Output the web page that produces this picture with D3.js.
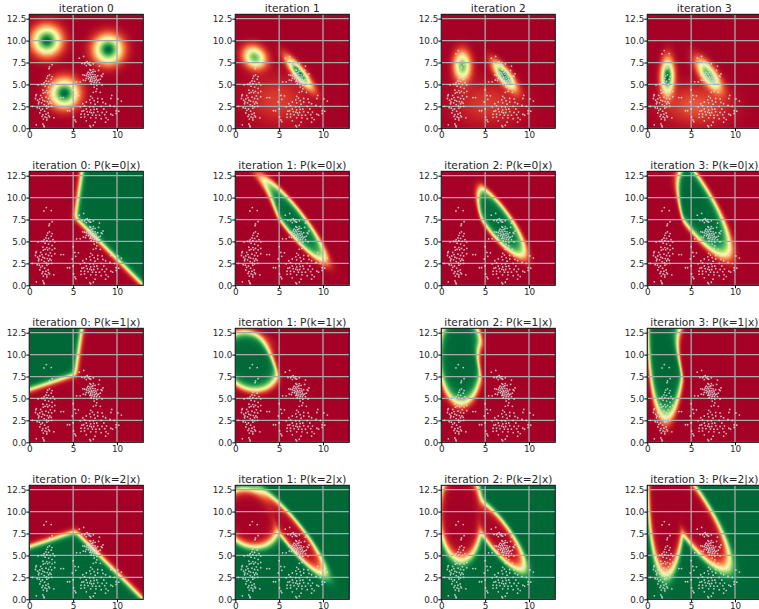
<!DOCTYPE html>
<html>
<head>
<meta charset="utf-8">
<script src="https://cdnjs.cloudflare.com/ajax/libs/d3/7.8.5/d3.min.js"></script>
<style>
html, body { margin: 0; padding: 0; background: #fff; overflow: hidden; }
svg { display: block; }
text { font-family: "DejaVu Sans", sans-serif; fill: #262626; }
</style>
</head>
<body>
<svg id="chart" width="759" height="609"></svg>
<script>
// points, one list per blob
const pointsLeft = [[1.94,8.86],[1.67,8.48],[2.5,8.52],[2.6,7.26],[2.3,7.0],[2.25,6.8],[2.3,6.1],[2.1,5.95],[2.0,5.7],[2.6,5.9],[2.5,5.6],[1.9,5.4],[2.2,5.35],[1.7,5.2],[1.4,5.0],[1.0,4.95],[1.6,5.0],[2.0,5.1],[2.4,5.0],[2.7,5.2],[2.9,4.95],[1.8,4.8],[2.2,4.7],[2.6,4.55],[1.55,4.35],[2.0,4.3],[2.3,4.2],[1.8,4.1],[1.6,4.0],[2.1,4.05],[2.6,4.05],[2.9,4.2],[0.8,3.85],[0.75,3.7],[1.3,3.75],[2.4,3.7],[2.9,3.6],[3.6,3.5],[3.9,3.5],[0.7,3.4],[1.45,3.5],[1.9,3.55],[2.2,3.4],[2.55,3.35],[1.55,3.2],[1.75,3.1],[2.05,3.05],[2.35,3.0],[1.1,3.0],[1.4,2.9],[2.2,2.8],[2.5,2.85],[1.7,2.7],[1.95,2.55],[2.2,2.45],[2.55,2.5],[0.35,2.5],[0.9,2.35],[1.15,2.3],[1.5,2.2],[2.0,2.3],[1.3,2.05],[1.75,1.95],[1.2,1.75],[1.55,1.55],[1.9,1.6],[2.15,1.75],[1.45,1.35],[1.8,1.3],[2.0,1.2],[2.3,1.3],[2.8,1.2],[1.6,1.05],[2.0,0.95],[1.55,0.5],[1.65,0.3],[0.8,0.4],[1.7,0.15],[2.2,1.45],[1.05,2.8],[0.95,3.2],[1.2,3.35]];
const pointsUpper = [[5.7,8.0],[6.2,8.2],[6.4,7.5],[6.6,7.6],[6.7,7.4],[6.9,7.5],[6.3,7.35],[6.5,7.15],[6.85,7.25],[7.0,7.2],[7.3,7.35],[8.0,7.1],[6.9,6.7],[7.0,6.6],[7.3,6.7],[7.5,6.5],[8.4,6.2],[8.2,6.0],[8.3,5.9],[6.7,6.4],[6.9,6.3],[7.1,6.35],[6.6,6.2],[6.8,6.1],[7.0,6.1],[7.25,6.15],[7.5,6.1],[6.3,6.05],[6.5,6.0],[7.1,5.9],[7.35,5.9],[7.6,5.85],[6.7,5.9],[6.9,5.8],[7.15,5.75],[7.4,5.7],[7.65,5.6],[6.5,5.7],[6.75,5.65],[7.0,5.6],[7.25,5.5],[7.5,5.45],[7.75,5.4],[7.9,5.5],[6.4,5.45],[6.9,5.35],[7.15,5.3],[7.4,5.25],[7.65,5.2],[8.0,5.2],[6.15,5.5],[7.05,5.05],[7.35,5.0],[7.7,4.9],[8.3,4.95],[7.4,4.7],[7.7,4.5],[7.6,4.2],[8.1,4.1],[7.3,4.1],[5.8,5.3],[5.4,5.3],[7.9,6.6],[6.1,6.1],[8.1,5.6],[7.8,6.0],[6.0,7.4],[7.0,5.4],[7.25,6.45]];
const pointsLower = [[5.0,4.4],[5.2,3.75],[5.6,3.7],[5.3,3.3],[7.0,3.65],[7.2,3.45],[7.8,3.4],[6.9,3.25],[7.4,3.15],[8.3,3.35],[9.4,3.75],[9.3,3.4],[10.1,3.35],[10.5,3.1],[6.5,3.0],[7.0,2.9],[7.8,3.0],[8.4,2.95],[6.1,2.8],[7.5,2.75],[8.7,2.8],[9.7,2.5],[9.2,2.6],[6.3,2.55],[6.9,2.45],[7.3,2.45],[8.2,2.5],[5.8,2.45],[4.35,2.0],[4.6,2.0],[5.0,2.2],[9.9,2.0],[10.2,1.95],[6.5,2.2],[7.0,2.1],[7.4,2.15],[7.7,2.2],[8.5,2.2],[6.0,1.95],[6.2,2.0],[6.6,1.9],[6.9,1.85],[7.1,1.75],[7.35,1.8],[7.8,1.9],[8.3,1.8],[8.8,1.85],[9.9,1.7],[5.9,1.6],[6.3,1.6],[6.7,1.55],[7.2,1.5],[7.6,1.5],[8.0,1.5],[8.6,1.55],[9.3,1.6],[9.5,1.5],[5.9,1.25],[6.3,1.3],[7.0,1.2],[7.6,1.2],[8.2,1.1],[8.75,1.2],[5.05,1.3],[5.2,0.95],[6.5,0.85],[7.5,0.7],[8.7,0.7],[5.3,0.75],[7.3,0.35],[7.0,0.15],[6.9,0.3],[4.9,3.0],[9.0,1.0]];

// gaussian means per iteration, k = 0, 1, 2
const iterMeans = [
  [[9, 9], [2, 10], [4, 4]],
  [[7.3, 6.3], [2.2, 8.1], [4.8, 3.2]],
  [[7.2, 6.0], [2.4, 7.1], [5.3, 2.8]],
  [[7.0, 6.1], [2.3, 5.9], [5.6, 2.6]]
];
// covariances as [sxx, sxy, syy], same order
const iterCovs = [
  [[1.1, 0, 1.1], [1.1, 0, 1.1], [1.1, 0, 1.1]],
  [[0.85, -0.88, 1.25], [0.7, -0.12, 0.66], [5.5, -0.3, 3.5]],
  [[0.68, -0.64, 1.02], [0.38, -0.02, 1.15], [7.0, -0.2, 3.0]],
  [[0.8, -0.72, 1.3], [0.23, 0.02, 1.7], [6.2, -0.2, 2.4]]
];

const iterations = [0, 1, 2, 3];
const xTicks = [0, 5, 10];
const yTicks = [0, 2.5, 5, 7.5, 10, 12.5];

const panelSize = 114;
const colX = [29.3, 235.3, 441.3, 647.3];
const rowY = [14.3, 171.3, 328.3, 485.3];

const svg = d3.select("#chart");
const allPoints = pointsLeft.concat(pointsUpper, pointsLower);
const color = d3.scaleSequential(d3.interpolateRdYlGn).domain([0, 1]);
const x = d3.scaleLinear().domain([0, 13]).range([0, panelSize]);
const y = d3.scaleLinear().domain([0, 13]).range([panelSize, 0]);

const gauss = (px, py, m, c) => {
  const dx = px - m[0], dy = py - m[1];
  const det = c[0] * c[2] - c[1] * c[1];
  const q = (c[2] * dx * dx - 2 * c[1] * dx * dy + c[0] * dy * dy) / det;
  return Math.exp(-q / 2) / (2 * Math.PI * Math.sqrt(det));
};

// value of one panel on the pixel grid. k = null means the mixture density
const fieldImage = (iter, k) => {
  const canvas = document.createElement("canvas");
  canvas.width = panelSize;
  canvas.height = panelSize;
  const ctx = canvas.getContext("2d");
  const values = [];
  for (let j = 0; j < panelSize; j++) {
    for (let i = 0; i < panelSize; i++) {
      const px = x.invert(i + 0.5), py = y.invert(j + 0.5);
      const dens = iterMeans[iter].map((m, c) => gauss(px, py, m, iterCovs[iter][c]));
      const total = d3.sum(dens);
      values.push(k === null ? total : dens[k] / total);
    }
  }
  const top = k === null ? d3.max(values) : 1;
  values.forEach((v, n) => {
    ctx.fillStyle = color(v / top);
    ctx.fillRect(n % panelSize, Math.floor(n / panelSize), 1, 1);
  });
  return canvas.toDataURL();
};

const drawPanel = (row, col, title, iter, k) => {
  const g = svg.append("g").attr("transform", `translate(${colX[col]}, ${rowY[row]})`);

  g.append("image")
    .attr("width", panelSize)
    .attr("height", panelSize)
    .attr("href", fieldImage(iter, k));

  // grid
  g.selectAll(".vgrid").data(xTicks).enter().append("line")
    .attr("x1", d => x(d)).attr("x2", d => x(d))
    .attr("y1", 0).attr("y2", panelSize)
    .attr("stroke", "#aaaaaa").attr("stroke-width", 1.3);
  g.selectAll(".hgrid").data(yTicks).enter().append("line")
    .attr("x1", 0).attr("x2", panelSize)
    .attr("y1", d => y(d)).attr("y2", d => y(d))
    .attr("stroke", "#aaaaaa").attr("stroke-width", 1.3);

  // points
  g.selectAll("circle").data(allPoints).enter().append("circle")
    .attr("cx", d => x(d[0]))
    .attr("cy", d => y(d[1]))
    .attr("r", 0.9)
    .attr("fill", "#dcdcdc")
    .attr("fill-opacity", 0.85);

  // axes
  const xAxis = d3.axisBottom(x).tickValues(xTicks).tickFormat(d3.format("d")).tickSize(3).tickPadding(0);
  const yAxis = d3.axisLeft(y).tickValues(yTicks).tickFormat(d3.format(".1f")).tickSize(3).tickPadding(0);
  const gx = g.append("g").attr("transform", `translate(0, ${panelSize})`).call(xAxis);
  const gy = g.append("g").call(yAxis);
  [gx, gy].forEach(a => {
    a.select(".domain").remove();
    a.selectAll("text").style("font-size", "8.8px").attr("fill", "#262626");
  });

  g.append("rect")
    .attr("width", panelSize).attr("height", panelSize)
    .attr("fill", "none").attr("stroke", "#111").attr("stroke-width", 1);

  g.append("text")
    .attr("x", panelSize / 2)
    .attr("y", -2)
    .attr("text-anchor", "middle")
    .style("font-size", "10.6px")
    .text(title);
};

iterations.forEach((iter, col) => {
  drawPanel(0, col, `iteration ${iter}`, iter, null);
  [0, 1, 2].forEach(k => {
    drawPanel(k + 1, col, `iteration ${iter}: P(k=${k}|x)`, iter, k);
  });
});
</script>
</body>
</html>
